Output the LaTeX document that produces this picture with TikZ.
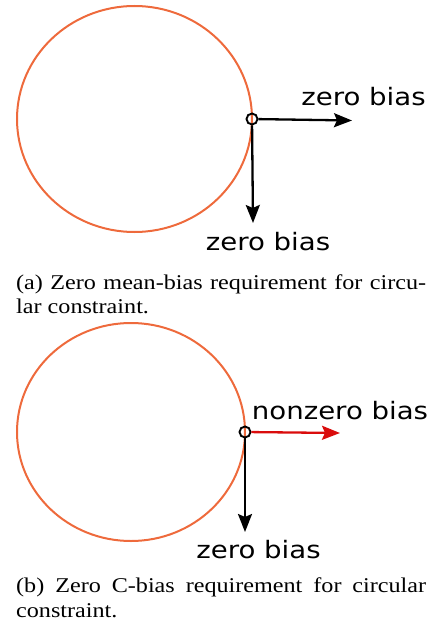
\documentclass[tikz,border=0pt]{standalone}
\usepackage{fontspec}
\setmainfont{Liberation Serif}
\setsansfont{DejaVu Sans}
\usepackage{xcolor}
\definecolor{cborange}{RGB}{238,106,60}
\definecolor{cbred}{RGB}{218,12,12}
\usetikzlibrary{arrows.meta}
\newcommand{\widetext}[1]{\scalebox{1.15}[1]{#1}}
\tikzset{
  constraint/.style={draw=cborange, line width=2pt},
  contact/.style={circle, draw, line width=1.9pt, inner sep=0pt, minimum size=11pt},
  biasarrow/.style={line width=2.3pt, -{Stealth[length=18pt,width=14pt,inset=3pt]}},
  biaslabel/.style={font=\sffamily\fontsize{24}{28}\selectfont, anchor=base, inner sep=0pt},
  capline/.style={font=\fontsize{21}{25}\selectfont, anchor=base west, inner sep=0pt}
}
\begin{document}
\begin{tikzpicture}[x=1pt, y=-1pt]
      \useasboundingbox (0,0) rectangle (435,626);

      % (a) zero mean-bias
      \draw[constraint] (134.5,119) ellipse [x radius=117.5pt, y radius=113pt];
      \node[contact] (pa) at (252,119) {};
      \coordinate (pa-right) at (352,120.5);
      \coordinate (pa-down) at (253,223);
      \draw[biasarrow] (pa) -- (pa-right);
      \draw[biasarrow] (pa) -- (pa-down);
      \node[biaslabel] (la-right) at (363.5,105) {\widetext{zero bias}};
      \node[biaslabel] (la-down) at (268,250) {\widetext{zero bias}};
      \node[capline] (capa1) at (16,289)
           {\widetext{\makebox[356.5pt][s]{(a) Zero mean-bias requirement for circu-}}};
      \node[capline] (capa2) at (16,313.5) {\widetext{lar constraint.}};

      % (b) zero C-bias
      \draw[constraint] (131,432) ellipse [x radius=114pt, y radius=109pt];
      \node[contact] (pb) at (245,432) {};
      \coordinate (pb-right) at (340,433);
      \coordinate (pb-down) at (245,532);
      \draw[biasarrow, cbred] (pb) -- (pb-right);
      \draw[biasarrow] (pb) -- (pb-down);
      \node[biaslabel] (lb-right) at (340,419) {\widetext{nonzero bias}};
      \node[biaslabel] (lb-down) at (258.5,558) {\widetext{zero bias}};
      \node[capline] (capb1) at (16,592)
           {\widetext{\makebox[356.5pt][s]{(b) Zero C-bias requirement for circular}}};
      \node[capline] (capb2) at (16,617) {\widetext{constraint.}};
\end{tikzpicture}
\end{document}
